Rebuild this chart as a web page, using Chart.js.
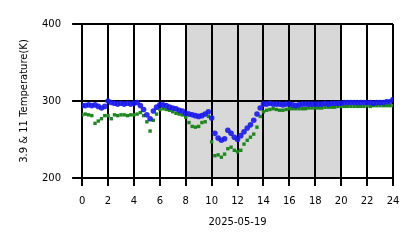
<!DOCTYPE html>
<html>
<head>
<meta charset="utf-8">
<script src="https://cdn.jsdelivr.net/npm/chart.js@4/dist/chart.umd.min.js"></script>
<style>
  html, body { margin: 0; padding: 0; background: #fff; }
  #wrap { width: 418px; height: 248px; }
</style>
</head>
<body>
<div id="wrap"><canvas id="chart" width="418" height="248"></canvas></div>
<script>
// hours of the day (every 15 minutes)
const hours = [
  0, 0.25, 0.5, 0.75, 1, 1.25, 1.5, 1.75, 2, 2.25, 2.5, 2.75, 3, 3.25, 3.5, 3.75,
  4, 4.25, 4.5, 4.75, 5, 5.25, 5.5, 5.75, 6, 6.25, 6.5, 6.75, 7, 7.25, 7.5, 7.75,
  8, 8.25, 8.5, 8.75, 9, 9.25, 9.5, 9.75, 10, 10.25, 10.5, 10.75, 11, 11.25, 11.5, 11.75,
  12, 12.25, 12.5, 12.75, 13, 13.25, 13.5, 13.75, 14, 14.25, 14.5, 14.75, 15, 15.25, 15.5, 15.75,
  16, 16.25, 16.5, 16.75, 17, 17.25, 17.5, 17.75, 18, 18.25, 18.5, 18.75, 19, 19.25, 19.5, 19.75,
  20, 20.25, 20.5, 20.75, 21, 21.25, 21.5, 21.75, 22, 22.25, 22.5, 22.75, 23, 23.25, 23.5, 23.75,
  24
];

// 3.9 um brightness temperature (blue)
const temp39 = [
  294, 294, 295, 294, 295, 293, 291, 293,
  300, 298, 297, 296, 297, 296, 297, 296,
  297, 298, 294, 289, 282, 277, 287, 292,
  295, 295, 294, 292, 291, 290, 288, 287,
  284, 283, 282, 281, 280, 281, 283, 286,
  278, 258, 252, 249, 251, 262, 258, 253,
  250, 255, 260, 265, 269, 275, 283, 291,
  296, 296, 297, 296, 296, 296, 295, 296,
  296, 295, 294, 295, 296, 296, 296, 296,
  296, 296, 296, 297, 296, 297, 297, 297,
  297, 298, 298, 298, 298, 298, 298, 298,
  298, 298, 297, 298, 298, 298, 299, 299,
  302
];

// 11 um brightness temperature (green)
const temp11 = [
  282, 283, 282, 281, 271, 274, 277, 281,
  281, 277, 282, 281, 282, 282, 281, 282,
  282, 283, 285, 281, 273, 261, 275, 283,
  289, 290, 289, 288, 286, 284, 283, 282,
  279, 272, 267, 266, 267, 272, 273, 280,
  247, 229, 230, 227, 231, 238, 240, 236,
  234, 236, 244, 249, 253, 257, 266, 280,
  286, 288, 289, 290, 289, 288, 288, 289,
  290, 290, 290, 290, 290, 290, 291, 291,
  291, 291, 291, 292, 292, 292, 292, 293,
  293, 293, 293, 293, 293, 293, 293, 293,
  294, 293, 294, 294, 294, 294, 294, 294,
  294
];

const xTicks = [0, 2, 4, 6, 8, 10, 12, 14, 16, 18, 20, 22, 24];
const yTicks = [200, 300, 400];
const nightBand = [8, 20];

function toPoints(values) {
  return values.map((v, i) => ({ x: hours[i], y: v }));
}

// grey band plus grid lines on top of it, under the points
const bandPlugin = {
  id: "band",
  beforeDatasetsDraw(chart) {
    const { ctx, chartArea, scales } = chart;
    const x0 = scales.x.getPixelForValue(nightBand[0]);
    const x1 = scales.x.getPixelForValue(nightBand[1]);
    ctx.save();
    ctx.fillStyle = "#d8d8d8";
    ctx.fillRect(x0, chartArea.top, x1 - x0, chartArea.bottom - chartArea.top);

    ctx.strokeStyle = "#000";
    ctx.lineWidth = 2;
    xTicks.forEach(t => {
      const px = Math.round(scales.x.getPixelForValue(t));
      ctx.beginPath();
      ctx.moveTo(px, chartArea.top);
      ctx.lineTo(px, chartArea.bottom);
      ctx.stroke();
    });
    yTicks.forEach(t => {
      const py = Math.round(scales.y.getPixelForValue(t));
      ctx.beginPath();
      ctx.moveTo(chartArea.left, py);
      ctx.lineTo(chartArea.right, py);
      ctx.stroke();
    });
    ctx.restore();
  }
};

Chart.defaults.font.family = "'DejaVu Sans', sans-serif";
Chart.defaults.font.size = 10;
Chart.defaults.color = "#000";

new Chart(document.getElementById("chart").getContext("2d"), {
  type: "scatter",
  data: {
    datasets: [
      {
        label: "3.9",
        data: toPoints(temp39),
        pointStyle: "circle",
        pointRadius: 2.8,
        pointBorderWidth: 0,
        backgroundColor: "rgba(25, 25, 235, 0.9)",
        borderColor: "rgba(25, 25, 235, 0.9)"
      },
      {
        label: "11",
        data: toPoints(temp11),
        pointStyle: "rect",
        pointRadius: 2.4,
        pointBorderWidth: 0,
        backgroundColor: "#1f861f",
        borderColor: "#1f861f"
      }
    ]
  },
  options: {
    responsive: false,
    animation: false,
    devicePixelRatio: 1,
    layout: { padding: { left: 18, right: 25, top: 24, bottom: 20 } },
    plugins: { legend: { display: false }, tooltip: { enabled: false } },
    scales: {
      x: {
        type: "linear",
        min: 0,
        max: 24,
        afterBuildTicks: axis => { axis.ticks = xTicks.map(v => ({ value: v })); },
        ticks: { padding: 9, maxRotation: 0, autoSkip: false },
        grid: { color: "#000", lineWidth: 2, tickLength: 8 },
        border: { color: "#000", width: 2 },
        title: { display: true, text: "2025-05-19", padding: { top: 0, bottom: 0 } }
      },
      y: {
        min: 200,
        max: 400,
        afterBuildTicks: axis => { axis.ticks = yTicks.map(v => ({ value: v })); },
        ticks: { padding: 11 },
        grid: { color: "#000", lineWidth: 2, tickLength: 10 },
        border: { color: "#000", width: 2 },
        title: { display: true, text: "3.9 & 11 Temperature(K)", padding: { top: 0, bottom: 1 } }
      }
    }
  },
  plugins: [bandPlugin]
});
</script>
</body>
</html>
